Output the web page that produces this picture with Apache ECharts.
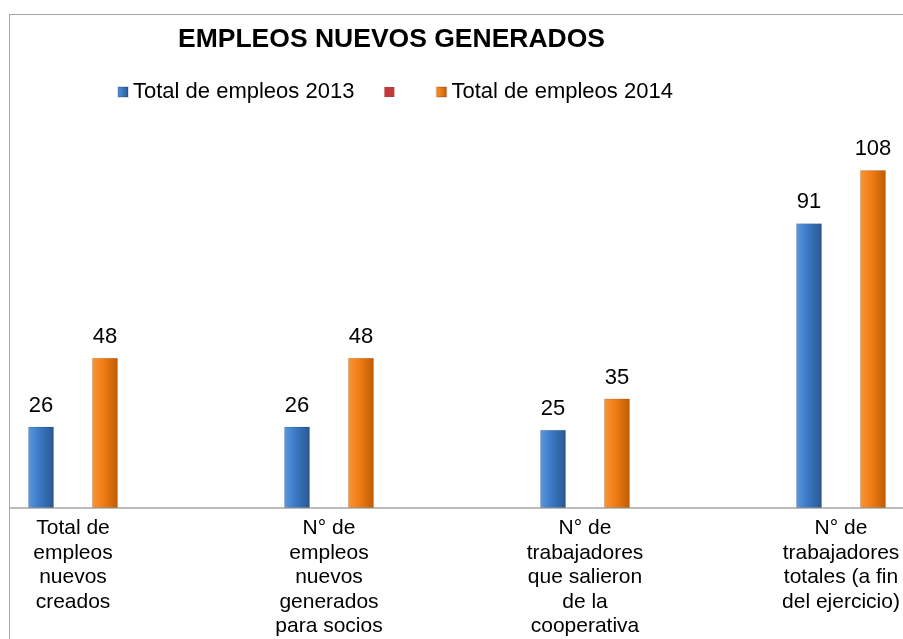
<!DOCTYPE html>
<html>
<head>
<meta charset="utf-8">
<script src="https://cdn.jsdelivr.net/npm/echarts@6/dist/echarts.min.js"></script>
<style>
	body { margin: 0; background: #fff; }
	.frame {
		position: absolute;
		left: 9px;
		top: 14px;
		width: 894px;
		height: 625px;
		border-left: 1px solid #a6a6a6;
		border-top: 1px solid #a6a6a6;
		overflow: hidden;
	}
	#chart { width: 893px; height: 624px; }
</style>
</head>
<body>
<div class="frame"><div id="chart"></div></div>
<script>
	var categories = [
		"Total de\nempleos\nnuevos\ncreados",
		"N° de\nempleos\nnuevos\ngenerados\npara socios",
		"N° de\ntrabajadores\nque salieron\nde la\ncooperativa",
		"N° de\ntrabajadores\ntotales (a fin\ndel ejercicio)"
	];
	var seriesNames = ["Total de empleos 2013", " ", "Total de empleos 2014"];
	var empleos2013 = [26, 26, 25, 91];
	var empleosVacio = ["-", "-", "-", "-"];
	var empleos2014 = [48, 48, 35, 108];

	var font = "'Liberation Sans', Arial, sans-serif";

	function barGradient(light, mid, dark) {
		return new echarts.graphic.LinearGradient(0, 0, 1, 0, [
			{ offset: 0, color: light },
			{ offset: 0.45, color: mid },
			{ offset: 1, color: dark }
		]);
	}

	var myChart = echarts.init(document.getElementById("chart"));
	myChart.setOption({
		animation: false,
		title: {
			text: "EMPLEOS NUEVOS GENERADOS",
			left: 163,
			top: 6,
			textStyle: {
				fontFamily: font,
				fontSize: 26.5,
				fontWeight: "bold",
				color: "#000"
			}
		},
		legend: {
			left: 102,
			top: 61,
			itemWidth: 10,
			itemHeight: 10,
			itemGap: 30,
			icon: "rect",
			textStyle: {
				fontFamily: font,
				fontSize: 22,
				color: "#000"
			},
			data: seriesNames
		},
		grid: {
			left: -65,
			width: 1024,
			top: 117.4,
			height: 375.6,
			containLabel: false,
			outerBoundsMode: "none"
		},
		xAxis: {
			type: "category",
			data: categories,
			axisTick: { show: false },
			axisLine: {
				show: true,
				lineStyle: { color: "#a6a6a6", width: 1.5 }
			},
			axisLabel: {
				interval: 0,
				margin: 8,
				fontFamily: font,
				fontSize: 21,
				lineHeight: 24.5,
				color: "#000"
			}
		},
		yAxis: {
			type: "value",
			min: 0,
			max: 120,
			show: false,
			splitLine: { show: false }
		},
		series: [
			{
				name: seriesNames[0],
				type: "bar",
				barWidth: 26,
				barGap: "23%",
				data: empleos2013,
				itemStyle: {
					color: barGradient("#5a98de", "#3b78c4", "#2a5790"),
					borderColor: "rgba(0,0,0,0.12)",
					borderWidth: 1
				},
				label: {
					show: true,
					position: "top",
					distance: 10,
					fontFamily: font,
					fontSize: 22,
					color: "#000"
				}
			},
			{
				name: seriesNames[1],
				type: "bar",
				barWidth: 26,
				barGap: "23%",
				data: empleosVacio,
				itemStyle: { color: "#c0393b" }
			},
			{
				name: seriesNames[2],
				type: "bar",
				barWidth: 26,
				barGap: "23%",
				data: empleos2014,
				itemStyle: {
					color: barGradient("#fb9535", "#ef7b12", "#bd5c06"),
					borderColor: "rgba(0,0,0,0.12)",
					borderWidth: 1
				},
				label: {
					show: true,
					position: "top",
					distance: 10,
					fontFamily: font,
					fontSize: 22,
					color: "#000"
				}
			}
		]
	});
</script>
</body>
</html>
